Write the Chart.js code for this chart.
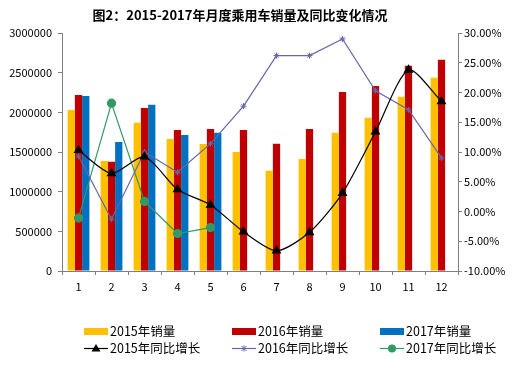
<!DOCTYPE html>
<html><head><meta charset="utf-8">
<script src="https://cdn.jsdelivr.net/npm/chart.js@4"></script>
<style>
html,body{margin:0;padding:0;background:#fff;}
#wrap{position:relative;width:519px;height:368px;font-family:"Noto Sans CJK SC","DejaVu Sans",sans-serif;}
#title{position:absolute;left:0;width:480px;top:5px;text-align:center;font-size:13px;font-weight:bold;color:#000;}
canvas{position:absolute;left:0;top:0;}
.lg{position:absolute;font-size:12.5px;color:#000;line-height:14px;white-space:nowrap;}
.sym{position:absolute;left:-26px;top:0;width:24px;height:14px;}
</style></head>
<body>
<div id="wrap">
<canvas id="c" width="519" height="368"></canvas>
<div id="title">图2：2015-2017年月度乘用车销量及同比变化情况</div>
<div id="legend"></div>
</div>
<script>
const months = ['1','2','3','4','5','6','7','8','9','10','11','12'];
const sales2015 = [2030000,1387000,1869000,1664000,1601000,1500000,1264000,1412000,1744000,1933000,2197000,2437000];
const sales2016 = [2218000,1378000,2055000,1777000,1790000,1777000,1605000,1790000,2256000,2332000,2588000,2664000];
const sales2017 = [2206000,1626000,2096000,1714000,1743000,null,null,null,null,null,null,null];
const growth2015 = [10.3,6.4,9.2,3.7,1.1,-3.4,-6.6,-3.5,3.1,13.4,23.8,18.5];
const growth2016 = [9.3,-1.3,10.0,6.6,11.4,17.7,26.2,26.2,29.0,20.3,17.1,9.0];
const growth2017 = [-1.1,18.2,1.7,-3.7,-2.7,null,null,null,null,null,null,null];
const leftTicks = [0,500000,1000000,1500000,2000000,2500000,3000000];
const rightTicks = [-10,-5,0,5,10,15,20,25,30];

const C = {y:'#FFC000', r:'#C00000', b:'#0070C0', k:'#000000', p:'#6666AA', g:'#339966'};
const axisColor = '#808080';
const tickFont = {family:'"Noto Sans CJK SC","DejaVu Sans",sans-serif', size:11};

const ds = [
 {type:'line',label:'2015年同比增长',data:growth2015,yAxisID:'y1',borderColor:C.k,backgroundColor:C.k,borderWidth:1.2,pointStyle:'triangle',pointRadius:4.5,tension:0.25,order:1},
 {type:'line',label:'2016年同比增长',data:growth2016,yAxisID:'y1',borderColor:C.p,backgroundColor:C.p,borderWidth:1.2,pointStyle:'star',pointRadius:3,pointBorderWidth:1,tension:0,order:2},
 {type:'line',label:'2017年同比增长',data:growth2017,yAxisID:'y1',borderColor:C.g,backgroundColor:C.g,borderWidth:1.2,pointStyle:'circle',pointRadius:4,tension:0,order:3},
 {type:'bar',label:'2015年销量',data:sales2015,yAxisID:'y',backgroundColor:C.y,order:10},
 {type:'bar',label:'2016年销量',data:sales2016,yAxisID:'y',backgroundColor:C.r,order:11},
 {type:'bar',label:'2017年销量',data:sales2017,yAxisID:'y',backgroundColor:C.b,order:12}
];

new Chart(document.getElementById('c'), {
 data:{labels:months,datasets:ds},
 options:{
  responsive:false,animation:false,
  layout:{padding:{left:0,right:0,top:33,bottom:77}},
  datasets:{bar:{categoryPercentage:0.66,barPercentage:1.0}},
  plugins:{legend:{display:false},title:{display:false},tooltip:{enabled:false}},
  scales:{
   x:{offset:true,grid:{display:true,drawOnChartArea:false,drawTicks:true,tickLength:4,color:axisColor,offset:true},
      border:{color:axisColor},ticks:{color:'#000',font:tickFont,padding:5},
      afterFit:s=>{s.height=20;}},
   y:{position:'left',min:0,max:3000000,
      afterBuildTicks:s=>{s.ticks=leftTicks.map(v=>({value:v}));},
      grid:{drawOnChartArea:false,drawTicks:true,tickLength:4,color:axisColor},
      border:{color:axisColor},
      ticks:{color:'#000',font:tickFont,padding:6,callback:v=>String(v)},
      afterFit:s=>{s.width=62;}},
   y1:{position:'right',min:-10,max:30,
      afterBuildTicks:s=>{s.ticks=rightTicks.map(v=>({value:v}));},
      grid:{drawOnChartArea:false,drawTicks:true,tickLength:4,color:axisColor},
      border:{color:axisColor},
      ticks:{color:'#000',font:tickFont,padding:2,callback:v=>v.toFixed(2)+'%'},
      afterFit:s=>{s.width=61;}}
  }
 }
});

// HTML legend built from dataset labels
const legendItems = [
 {label:ds[3].label,kind:'bar',color:C.y,x:110,y:324},
 {label:ds[4].label,kind:'bar',color:C.r,x:258,y:324},
 {label:ds[5].label,kind:'bar',color:C.b,x:406,y:324},
 {label:ds[0].label,kind:'tri',color:C.k,x:110,y:341},
 {label:ds[1].label,kind:'star',color:C.p,x:258,y:341},
 {label:ds[2].label,kind:'circ',color:C.g,x:406,y:341}
];
const lg = document.getElementById('legend');
legendItems.forEach(it=>{
 const d=document.createElement('div');d.className='lg';d.style.left=it.x+'px';d.style.top=it.y+'px';
 const s=document.createElement('canvas');s.className='sym';s.width=24;s.height=14;
 const g=s.getContext('2d');
 if(it.kind==='bar'){g.fillStyle=it.color;g.fillRect(0,4,24,7);}
 else{
  g.strokeStyle=it.color;g.lineWidth=1.2;g.beginPath();g.moveTo(0,7.5);g.lineTo(24,7.5);g.stroke();
  g.fillStyle=it.color;
  if(it.kind==='tri'){g.beginPath();g.moveTo(12,3);g.lineTo(16.5,10.5);g.lineTo(7.5,10.5);g.closePath();g.fill();}
  else if(it.kind==='circ'){g.beginPath();g.arc(12,7.5,4,0,Math.PI*2);g.fill();}
  else {g.lineWidth=1;g.beginPath();g.moveTo(9.5,5);g.lineTo(14.5,10);g.moveTo(14.5,5);g.lineTo(9.5,10);g.moveTo(12,4.5);g.lineTo(12,10.5);g.stroke();}
 }
 d.appendChild(s);
 d.appendChild(document.createTextNode(it.label));
 lg.appendChild(d);
});
</script>
</body></html>
